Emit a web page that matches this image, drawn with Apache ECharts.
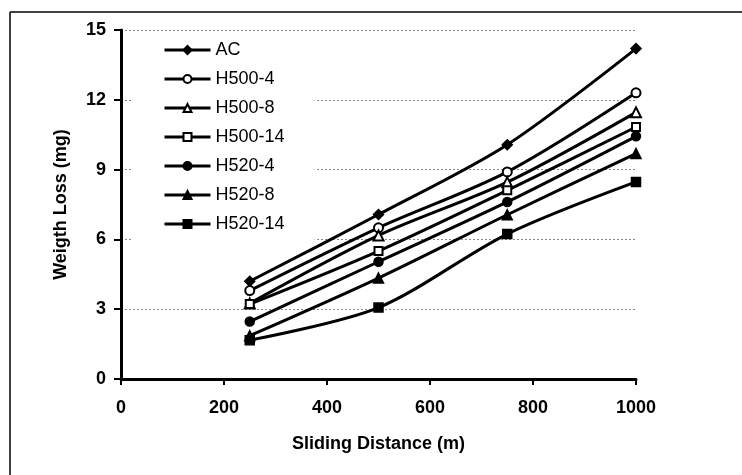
<!DOCTYPE html>
<html>
<head>
<meta charset="utf-8">
<script src="https://cdn.jsdelivr.net/npm/echarts@6/dist/echarts.min.js"></script>
<style>html,body{margin:0;padding:0;background:#fff;}#c{width:742px;height:475px;}</style>
</head>
<body>
<div id="c"></div>
<script>
const distances = [250, 500, 750, 1000];
const seriesNames = ['AC', 'H500-4', 'H500-8', 'H500-14', 'H520-4', 'H520-8', 'H520-14'];
const AC = [4.2, 7.07, 10.07, 14.2];
const H500_4 = [3.8, 6.5, 8.9, 12.3];
const H500_8 = [3.25, 6.17, 8.46, 11.46];
const H500_14 = [3.22, 5.5, 8.11, 10.83];
const H520_4 = [2.47, 5.04, 7.61, 10.43];
const H520_8 = [1.86, 4.34, 7.06, 9.69];
const H520_14 = [1.67, 3.07, 6.23, 8.47];
const yTicks = [0, 3, 6, 9, 12, 15];
const xTicks = [0, 200, 400, 600, 800, 1000];

const values = [AC, H500_4, H500_8, H500_14, H520_4, H520_8, H520_14];
const symbols = ['diamond', 'emptyCircle', 'emptyTriangle', 'emptyRect', 'circle', 'triangle', 'rect'];
const sizes = [10, 9, 10, 8, 9, 10, 9];

const FONT = 'Arial, "Liberation Sans", sans-serif';
const chart = echarts.init(document.getElementById('c'));
chart.setOption({
  animation: false,
  backgroundColor: '#fff',
  grid: { left: 121, top: 30, width: 515, height: 349, containLabel: false },
  xAxis: {
    type: 'value', min: xTicks[0], max: xTicks[xTicks.length - 1], interval: 200,
    name: 'Sliding Distance (m)', nameLocation: 'middle', nameGap: 56,
    nameTextStyle: { fontFamily: FONT, fontWeight: 'bold', fontSize: 18, color: '#000' },
    axisLine: { lineStyle: { color: '#000', width: 3 } },
    axisTick: { show: true, length: 6, lineStyle: { color: '#000', width: 2 } },
    axisLabel: { margin: 20, fontFamily: FONT, fontWeight: 'bold', fontSize: 18, color: '#000',
      formatter: v => String(v) },
    splitLine: { show: false }
  },
  yAxis: {
    type: 'value', min: yTicks[0], max: yTicks[yTicks.length - 1], interval: 3,
    name: 'Weigth Loss (mg)', nameLocation: 'middle', nameGap: 51, nameRotate: 90,
    nameTextStyle: { fontFamily: FONT, fontWeight: 'bold', fontSize: 18, color: '#000' },
    axisLine: { show: true, lineStyle: { color: '#000', width: 3 } },
    axisTick: { show: true, length: 7, lineStyle: { color: '#000', width: 2 } },
    axisLabel: { margin: 15, fontFamily: FONT, fontWeight: 'bold', fontSize: 18, color: '#000',
      formatter: v => String(v) },
    splitLine: { show: true, lineStyle: { color: '#888', width: 1, type: [2, 2] } }
  },
  legend: {
    orient: 'vertical', left: 132, top: 34,
    padding: [7, 30, 7, 31],
    backgroundColor: '#fff',
    itemWidth: 46, itemHeight: 10, itemGap: 11,
    lineStyle: { width: 3, color: '#000' },
    textStyle: { fontFamily: FONT, fontSize: 18, color: '#000' },
    data: seriesNames
  },
  graphic: [
    { type: 'line', shape: { x1: 10, y1: 12, x2: 742, y2: 12 }, style: { stroke: '#000', lineWidth: 1.5 }, z: 100 },
    { type: 'line', shape: { x1: 10, y1: 12, x2: 10, y2: 475 }, style: { stroke: '#000', lineWidth: 1.5 }, z: 100 }
  ],
  series: seriesNames.map((n, i) => ({
    name: n, type: 'line', smooth: 0.3,
    data: distances.map((d, j) => [d, values[i][j]]),
    symbol: symbols[i], symbolSize: sizes[i],
    lineStyle: { color: '#000', width: 3 },
    itemStyle: { color: '#000', borderColor: '#000', borderWidth: 1.5 },
    z: 3
  }))
});
</script>
</body>
</html>
